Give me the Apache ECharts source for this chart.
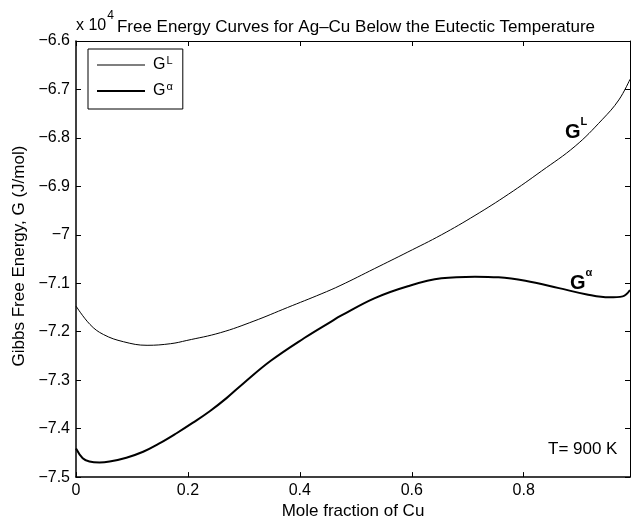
<!DOCTYPE html>
<html>
<head>
<meta charset="utf-8">
<script src="https://cdn.jsdelivr.net/npm/echarts@6/dist/echarts.min.js"></script>
<style>
  html, body { margin: 0; padding: 0; background: #fff; }
  #chart { width: 631px; height: 525px; }
</style>
</head>
<body>
<div id="chart"></div>
<script>
// Mole fraction of Cu at which each curve was sampled
const xLiquid = [0, 0.025, 0.049, 0.085, 0.127, 0.169, 0.198, 0.258, 0.318, 0.378, 0.438,
  0.4735, 0.533, 0.593, 0.653, 0.713, 0.773, 0.832, 0.892, 0.94, 0.97, 0.99];
// Liquid free energy G^L, J/mol
const gLiquid = [-71470, -71850, -72057, -72207, -72280, -72247, -72180, -72020, -71780, -71500, -71220,
  -71040, -70700, -70355, -70000, -69600, -69160, -68683, -68170, -67626, -67217, -66790];

const xAlpha = [0, 0.012, 0.024, 0.042, 0.06, 0.09, 0.12, 0.149, 0.179, 0.209, 0.239, 0.269,
  0.30, 0.348, 0.408, 0.456, 0.4735, 0.533, 0.593, 0.653, 0.713, 0.755, 0.803, 0.863,
  0.911, 0.953, 0.977, 0.99];
// Solid solution free energy G^alpha, J/mol
const gAlpha = [-74410, -74610, -74680, -74700, -74680, -74600, -74477, -74306, -74100, -73877, -73640, -73370,
  -73057, -72600, -72130, -71790, -71670, -71310, -71060, -70898, -70863, -70877, -70950, -71100,
  -71225, -71290, -71270, -71140];

// Axis ticks
const xTicks = [0, 0.2, 0.4, 0.6, 0.8];
const yTickLabels = ['-7.5', '-7.4', '-7.3', '-7.2', '-7.1', '-7', '-6.9', '-6.8', '-6.7', '-6.6'];

const FONT = 'Liberation Sans';
const chart = echarts.init(document.getElementById('chart'), null, { renderer: 'canvas' });

const pairs = (xs, ys) => xs.map((x, i) => [x, ys[i]]);
const minus = s => String(s).replace('-', '\u2212');

const frameAxis = {
  axisLine: { show: true, onZero: false, lineStyle: { color: '#000', width: 1 } },
  axisTick: { show: true, inside: true, length: 5, lineStyle: { color: '#000' } },
  splitLine: { show: false }
};
const heavyLine = { axisLine: { show: true, onZero: false, lineStyle: { color: '#000', width: 1.5 } } };

const option = {
  backgroundColor: '#fff',
  animation: false,
  textStyle: { fontFamily: FONT },
  grid: { left: 76, right: 1, top: 41, bottom: 44, containLabel: false },
  xAxis: [
    Object.assign({
      type: 'value', position: 'bottom', min: 0, max: 0.99, interval: 0.2,
      name: 'Mole fraction of Cu', nameLocation: 'middle', nameGap: 23,
      nameTextStyle: { fontFamily: FONT, fontSize: 17, color: '#000' },
      axisLabel: {
        fontFamily: FONT, fontSize: 16, color: '#000', margin: 5, showMaxLabel: false,
        formatter: v => (xTicks.some(t => Math.abs(t - v) < 1e-9) ? String(v) : '')
      }
    }, frameAxis, heavyLine),
    Object.assign({
      type: 'value', position: 'top', min: 0, max: 0.99, interval: 0.2,
      axisLabel: { show: false }
    }, frameAxis)
  ],
  yAxis: [
    Object.assign({
      type: 'value', position: 'left', min: -75000, max: -66000, interval: 1000,
      name: 'Gibbs Free Energy, G (J/mol)', nameLocation: 'middle', nameGap: 47,
      nameTextStyle: { fontFamily: FONT, fontSize: 17, color: '#000', padding: [0, 0, 0, 6] },
      axisLabel: {
        fontFamily: FONT, fontSize: 16, color: '#000', margin: 6,
        formatter: v => {
          const i = Math.round((v + 75000) / 1000);
          return minus(yTickLabels[i] !== undefined ? yTickLabels[i] : '');
        }
      }
    }, frameAxis, heavyLine),
    Object.assign({
      type: 'value', position: 'right', min: -75000, max: -66000, interval: 1000,
      axisLabel: { show: false }
    }, frameAxis)
  ],
  legend: {
    show: true,
    orient: 'vertical', left: 88, top: 49,
    padding: [6, 10, 8, 9],
    itemWidth: 48, itemHeight: 14, itemGap: 6,
    borderColor: '#000', borderWidth: 1,
    backgroundColor: '#fff',
    itemStyle: { color: '#000', borderWidth: 0 },
    lineStyle: { width: 0 },
    data: [
      { name: 'GL', icon: 'path://M0,0H48V1H0Z' },
      { name: 'Galpha', icon: 'path://M0,0H48V2H0Z' }
    ],
    formatter: name => (name === 'GL' ? '{g|G}{s|L}' : '{g|G}{s|\u03b1}'),
    textStyle: {
      fontFamily: FONT, color: '#000', padding: [0, 0, 0, 3],
      rich: {
        g: { fontFamily: FONT, fontSize: 16, color: '#000', lineHeight: 20 },
        s: { fontFamily: FONT, fontSize: 11, color: '#000', verticalAlign: 'top', lineHeight: 20, padding: [0, 0, 9, 1] }
      }
    }
  },
  series: [
    {
      name: 'GL', type: 'line', xAxisIndex: 0, yAxisIndex: 0,
      data: pairs(xLiquid, gLiquid), smooth: 0.4, symbol: 'none',
      lineStyle: { color: '#000', width: 1 }, itemStyle: { color: '#000' }
    },
    {
      name: 'Galpha', type: 'line', xAxisIndex: 0, yAxisIndex: 0,
      data: pairs(xAlpha, gAlpha), smooth: 0.4, symbol: 'none',
      lineStyle: { color: '#000', width: 2 }, itemStyle: { color: '#000' }
    }
  ],
  graphic: [
    // exponent of the y-axis values, above the top-left corner
    {
      type: 'text', left: 76, top: 10,
      style: {
        text: '{a|x 10}{b|4}', fill: '#000',
        rich: {
          a: { fontFamily: FONT, fontSize: 16, lineHeight: 24, verticalAlign: 'bottom' },
          b: { fontFamily: FONT, fontSize: 12, lineHeight: 24, verticalAlign: 'top', padding: [0, 0, 0, 1] }
        }
      }
    },
    {
      type: 'text', x: 356, y: 27,
      style: {
        text: 'Free Energy Curves for Ag\u2013Cu Below the Eutectic Temperature',
        fontFamily: FONT, fontSize: 17, fill: '#000', align: 'center', verticalAlign: 'middle'
      }
    },
    // curve annotations
    {
      type: 'text', x: 565, y: 116,
      style: {
        text: '{g|G}{s|L}', fill: '#000',
        rich: {
          g: { fontFamily: FONT, fontSize: 20, fontWeight: 'bold', lineHeight: 26, verticalAlign: 'bottom' },
          s: { fontFamily: FONT, fontSize: 11, fontWeight: 'bold', lineHeight: 26, verticalAlign: 'top' }
        }
      }
    },
    {
      type: 'text', x: 570, y: 267,
      style: {
        text: '{g|G}{s|\u03b1}', fill: '#000',
        rich: {
          g: { fontFamily: FONT, fontSize: 20, fontWeight: 'bold', lineHeight: 26, verticalAlign: 'bottom' },
          s: { fontFamily: FONT, fontSize: 11, fontWeight: 'bold', lineHeight: 26, verticalAlign: 'top' }
        }
      }
    },
    {
      type: 'text', x: 548, y: 449,
      style: {
        text: 'T= 900 K', fontFamily: FONT, fontSize: 17, fill: '#000',
        align: 'left', verticalAlign: 'middle'
      }
    }
  ]
};

chart.setOption(option);
</script>
</body>
</html>
